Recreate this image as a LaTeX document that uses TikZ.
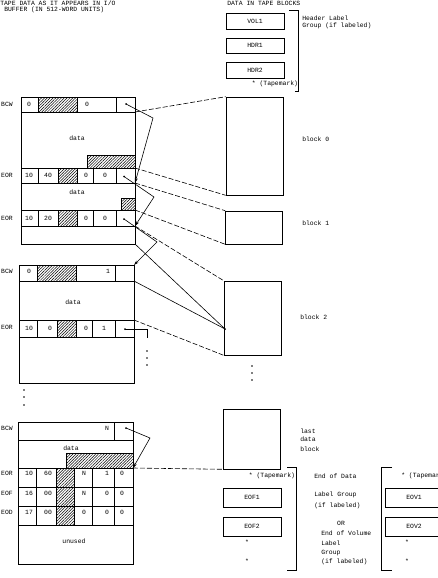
\documentclass[tikz,border=0pt]{standalone}
\usepackage{fontspec}
\newfontfamily\tapefont{Liberation Mono}
\usetikzlibrary{arrows.meta,patterns.meta}

\begin{document}
\begin{tikzpicture}[x=1pt,y=-1pt,line width=0.6pt,
        every node/.style={font=\tapefont\fontsize{6.4}{6.8}\selectfont,inner sep=0pt},
        labelbox/.style={draw,minimum width=58pt,minimum height=16pt},
        tblock/.style={draw,minimum width=57pt,minimum height=#1},
        hatch/.style={draw,pattern={Lines[angle=45,distance=2pt,line width=0.5pt]}},
        tapemap/.style={dash pattern=on 5pt off 2pt},
        ptr/.style={-{Stealth[length=5pt,width=3pt]}},
        txt/.style={anchor=west}]

        \useasboundingbox (0,0) rectangle (437,578);

        % nadpisy
        \node[txt] (TitleA) at (0,3) {TAPE DATA AS IT APPEARS IN I/O};
        \node[txt] (TitleB) at (4,9.5) {BUFFER (IN 512-WORD UNITS)};
        \node[txt] (TitleC) at (227,3) {DATA IN TAPE BLOCKS};

        % hlavickove navesti
        \node[labelbox] (VOL1) at (255,21) {VOL1};
        \node[labelbox,minimum height=15pt] (HDR1) at (255,45.5) {HDR1};
        \node[labelbox] (HDR2) at (255,70) {HDR2};
        \node (TMa) at (275,84) {* (Tapemark)};
        \draw (289,10) -- (298,10) -- (298,91) -- (295,91);
        \node[txt,align=left] (HdrTxt) at (302,22) {Header Label\\Group (if labeled)};

        % bloky na pasce
        \node[tblock=98pt] (Blk0) at (254.5,146) {};
        \node[tblock=33pt] (Blk1) at (254,227.5) {};
        \node[tblock=74pt] (Blk2) at (252.5,318) {};
        \node[tblock=60pt] (BlkN) at (252,439) {};
        \fill (225,329) coordinate (Blk2p) circle (1);
        \node[txt] (Blk0t) at (302,139) {block 0};
        \node[txt] (Blk1t) at (302,223) {block 1};
        \node[txt] (Blk2t) at (300,317) {block 2};
        \node[txt] (BlkNa) at (300,431) {last};
        \node[txt] (BlkNb) at (300,439) {data};
        \node[txt] (BlkNc) at (300,449) {block};
        \fill (252,366) circle (0.8) (252,373) circle (0.8) (252,380) circle (0.8);

        % buffer 1
        \draw (21,97) rectangle (135,244);
        \draw (21,112) -- (135,112) coordinate (B1a);
        \draw (21,168) -- (135,168) coordinate (B1b);
        \draw (21,183) -- (135,183) coordinate (B1c);
        \draw (21,210) -- (135,210) coordinate (B1d);
        \draw (21,226) -- (135,226) coordinate (B1e);
        \coordinate (B1f) at (135,244);
        \draw[hatch] (38,97) rectangle (77,112);
        \draw[hatch] (87,155) rectangle (135,168);
        \draw[hatch] (58,168) rectangle (77,183);
        \draw[hatch] (121,198) rectangle (135,210);
        \draw[hatch] (58,210) rectangle (77,226);
        \draw (116,97) -- (116,112);
        \draw (38,168) -- (38,183) (93,168) -- (93,183) (116,168) -- (116,183);
        \draw (38,210) -- (38,226) (93,210) -- (93,226) (116,210) -- (116,226);
        \node (L1a) at (7,104.5) {BCW};
        \node (L1b) at (7,175.5) {EOR};
        \node (L1c) at (7,218) {EOR};
        \node (V1a) at (29,104.5) {0};  \node (V1b) at (87,104.5) {0};
        \node (V1c) at (29,175.5) {10}; \node (V1d) at (48,175.5) {40};
        \node (V1e) at (86,175.5) {0};  \node (V1f) at (105,175.5) {0};
        \node (V1g) at (29,218) {10};   \node (V1h) at (48,218) {20};
        \node (V1i) at (86,218) {0};    \node (V1j) at (105,218) {0};
        \node (D1a) at (77,138) {data};
        \node (D1b) at (77,192) {data};

        % buffer 2
        \draw (19,265) rectangle (134,383);
        \coordinate (B2t) at (134,265);
        \draw (19,281) -- (134,281) coordinate (B2a);
        \draw (19,320) -- (134,320) coordinate (B2b);
        \draw (19,337) -- (134,337);
        \draw[hatch] (37,265) rectangle (76,281);
        \draw[hatch] (57,320) rectangle (76,337);
        \draw (115,265) -- (115,281);
        \draw (37,320) -- (37,337) (92,320) -- (92,337) (115,320) -- (115,337);
        \node (L2a) at (7,271) {BCW};
        \node (L2b) at (7,327) {EOR};
        \node (V2a) at (29,271) {0};  \node (V2b) at (108,271) {1};
        \node (V2c) at (29,328) {10}; \node (V2d) at (50,328) {0};
        \node (V2e) at (86,328) {0};  \node (V2f) at (104,328) {1};
        \node (D2a) at (73,302) {data};
        \fill (125,329) coordinate (B2p) circle (1);
        \coordinate (B2q) at (147,338);
        \draw (B2p) -- (147,329) -- (B2q);
        \fill (147,351) circle (0.8) (147,358) circle (0.8) (147,365) circle (0.8);
        \fill (24,390) circle (0.8) (24,397) circle (0.8) (24,405) circle (0.8);

        % posledni buffer
        \draw (18,422) rectangle (133,564);
        \draw (18,440) -- (133,440);
        \draw (18,468) -- (133,468) coordinate (B4b);
        \draw (18,487) -- (133,487) (18,506) -- (133,506) (18,525) -- (133,525);
        \draw[hatch] (66,453) rectangle (133,468);
        \draw[hatch] (56,468) rectangle (74,525);
        \draw (114,422) -- (114,440);
        \draw (36,468) -- (36,525) (92,468) -- (92,525) (114,468) -- (114,525);
        \node (L4a) at (7,428) {BCW};
        \node (L4b) at (7,473) {EOR};
        \node (L4c) at (7,493) {EOF};
        \node (L4d) at (7,512) {EOD};
        \node (V4a) at (107,428) {N};
        \node (V4b) at (29,473) {10}; \node (V4c) at (48,473) {60}; \node (V4d) at (84,473) {N};
        \node (V4e) at (107,473) {1}; \node (V4f) at (122,473) {0};
        \node (V4g) at (29,493) {16}; \node (V4h) at (48,493) {00}; \node (V4i) at (84,493) {N};
        \node (V4j) at (107,493) {0}; \node (V4k) at (122,493) {0};
        \node (V4l) at (29,512) {17}; \node (V4m) at (48,512) {00}; \node (V4n) at (84,512) {0};
        \node (V4o) at (107,512) {0}; \node (V4p) at (122,512) {0};
        \node (D4a) at (71,448) {data};
        \node (D4b) at (74,541) {unused};

        % ukazatele
        \fill (126,104) coordinate (B1p0) circle (1);
        \fill (124,176.5) coordinate (B1p1) circle (1);
        \fill (124,219) coordinate (B1p2) circle (1);
        \fill (126,428) coordinate (B4p) circle (1);
        \draw[ptr] (B1p0) -- (153,118) -- (B1c);
        \draw[ptr] (B1p1) -- (154,197) -- (B1e);
        \draw[ptr] (B1p2) -- (157,242) -- (B2t);
        \draw[ptr] (B4p) -- (150,438) -- (B4b);

        % prirazeni bloku
        \draw[tapemap] (B1a) -- (Blk0.north west);
        \draw[tapemap] (B1b) -- (Blk0.south west);
        \draw[tapemap] (B1c) -- (Blk1.north west);
        \draw[tapemap] (B1d) -- (Blk1.south west);
        \draw[tapemap] (B1e) -- (Blk2.north west);
        \draw (B1f) -- (Blk2p);
        \draw (B2a) -- (Blk2p);
        \draw[tapemap] (B2b) -- (Blk2.south west);
        \draw[tapemap] (B4b) -- (BlkN.south west);

        % konec dat / konec svazku
        \node (TMb) at (272,476) {* (Tapemark)};
        \draw (287,467) -- (296,467) -- (296,570) -- (287,570);
        \node[labelbox,minimum height=19pt] (EOF1) at (252,497.5) {EOF1};
        \node[labelbox,minimum height=19pt] (EOF2) at (252,526.5) {EOF2};
        \node (StA) at (247,542) {*};
        \node (StB) at (247,561) {*};
        \node[txt] (EndD) at (314,476) {End of Data};
        \node[txt] (LGa) at (314,495) {Label Group};
        \node[txt] (LGb) at (314,506) {(if labeled)};
        \node (OrT) at (341,523) {OR};
        \node[txt] (EVa) at (321,533) {End of Volume};
        \node[txt] (EVb) at (321,543) {Label};
        \node[txt] (EVc) at (321,553) {Group};
        \node[txt] (EVd) at (321,562) {(if labeled)};
        \draw (392,467) -- (381,467) -- (381,570) -- (392,570);
        \node[txt] (TMc) at (401,476) {* (Tapemark)};
        \node[labelbox,minimum height=19pt] (EOV1) at (414,497.5) {EOV1};
        \node[labelbox,minimum height=19pt] (EOV2) at (414,526.5) {EOV2};
        \node (StC) at (407,542) {*};
        \node (StD) at (407,561) {*};

\end{tikzpicture}
\end{document}
